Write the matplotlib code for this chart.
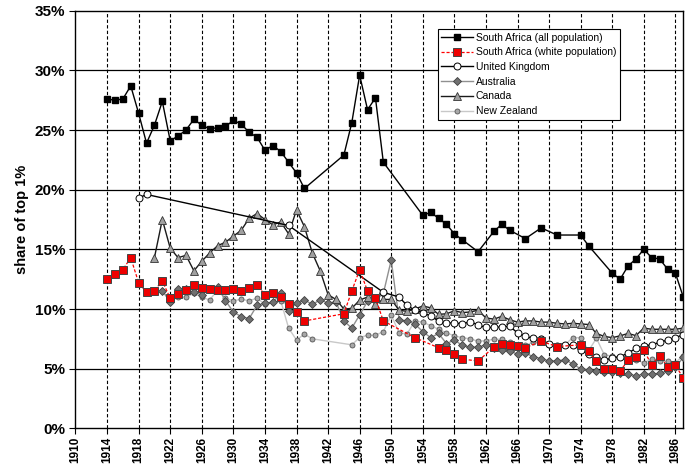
import matplotlib
matplotlib.use("Agg")
import matplotlib.pyplot as plt
from matplotlib.ticker import FuncFormatter

plt.rcParams['font.family'] = ['Liberation Sans', 'DejaVu Sans']

# ---------------- data ----------------
sa_all_years = [1914, 1915, 1916, 1917, 1918, 1919, 1920, 1921, 1922, 1923, 1924, 1925, 1926,
                1927, 1928, 1929, 1930, 1931, 1932, 1933, 1934, 1935, 1936, 1937, 1938, 1939,
                1944, 1945, 1946, 1947, 1948, 1949, 1954, 1955, 1956, 1957, 1958, 1959, 1961,
                1963, 1964, 1965, 1967, 1969, 1971, 1974, 1975, 1978, 1979, 1980, 1981, 1982,
                1983, 1984, 1985, 1986, 1987]
sa_all_vals = [27.6, 27.5, 27.6, 28.7, 26.4, 23.9, 25.4, 27.4, 24.1, 24.5, 25.0, 25.9, 25.4,
               25.1, 25.2, 25.3, 25.8, 25.5, 24.8, 24.4, 23.3, 23.7, 23.2, 22.3, 21.4, 20.1,
               22.9, 25.6, 29.6, 26.7, 27.7, 22.3, 17.85, 18.1, 17.6, 17.1, 16.3, 15.8, 14.8,
               16.5, 17.1, 16.6, 15.9, 16.8, 16.2, 16.2, 15.3, 13.0, 12.5, 13.6, 14.2, 15.0,
               14.3, 14.2, 13.35, 13.0, 11.0]

sa_white_years = [1914, 1915, 1916, 1917, 1918, 1919, 1920, 1921, 1922, 1923, 1924, 1925, 1926,
                  1927, 1928, 1929, 1930, 1931, 1932, 1933, 1934, 1935, 1936, 1937, 1938, 1939,
                  1944, 1945, 1946, 1947, 1948, 1949, 1953, 1956, 1957, 1958, 1959, 1961,
                  1963, 1964, 1965, 1966, 1967, 1969, 1971, 1974, 1975, 1976, 1977, 1978, 1979,
                  1980, 1981, 1982, 1983, 1984, 1985, 1986, 1987]
sa_white_vals = [12.5, 12.9, 13.3, 14.3, 12.2, 11.4, 11.55, 12.35, 10.9, 11.26, 11.6, 12.0, 11.8,
                 11.65, 11.6, 11.6, 11.65, 11.5, 11.75, 12.0, 11.2, 11.35, 11.0, 10.4, 9.75, 9.0,
                 9.6, 11.5, 13.3, 11.5, 10.9, 9.0, 7.6, 6.75, 6.55, 6.2, 5.8, 5.64,
                 6.8, 7.05, 7.02, 6.9, 6.76, 7.3, 6.85, 7.0, 6.45, 5.62, 4.96, 4.96, 4.8,
                 5.7, 5.97, 6.55, 5.3, 6.1, 5.18, 5.3, 4.2]

uk_years = [1918, 1919, 1937, 1949, 1951, 1952, 1953, 1954, 1955, 1956, 1957, 1958, 1959, 1960,
            1961, 1962, 1963, 1964, 1965, 1966, 1967, 1968, 1969, 1970, 1971, 1972, 1973, 1974,
            1975, 1976, 1977, 1978, 1979, 1980, 1981, 1982, 1983, 1984, 1985, 1986, 1987]
uk_vals = [19.3, 19.6, 17.0, 11.4, 11.0, 10.3, 9.9, 9.7, 9.4, 9.0, 8.8, 8.85, 8.74, 8.94,
           8.66, 8.45, 8.45, 8.5, 8.55, 8.0, 7.7, 7.55, 7.45, 7.06, 6.86, 6.98, 7.0, 6.56,
           6.2, 5.95, 5.7, 5.9, 6.0, 6.3, 6.7, 6.9, 7.0, 7.2, 7.4, 7.6, 7.85]

aus_years = list(range(1921, 1988))
aus_vals = [11.55, 10.6, 11.7, 11.65, 11.4, 11.2, 11.65, 11.85, 10.7, 9.75, 9.36, 9.2, 10.3,
            10.5, 10.55, 11.3, 9.86, 10.5, 10.75, 10.4, 10.75, 10.5, 10.6, 9.0, 8.4, 9.5,
            10.65, 10.75, 11.3, 14.1, 9.1, 9.0, 8.74, 8.1, 7.6, 7.95, 7.1, 7.4, 6.95, 6.8,
            6.8, 7.0, 6.76, 6.56, 6.45, 6.23, 6.3, 6.0, 5.85, 5.64, 5.65, 5.75, 5.4, 4.98,
            4.9, 4.83, 4.72, 4.7, 4.6, 4.56, 4.4, 4.55, 4.55, 4.6, 4.83, 5.1, 5.95]

can_years = list(range(1920, 1988))
can_vals = [14.3, 17.5, 15.1, 14.3, 14.5, 13.2, 14.0, 14.7, 15.3, 15.6, 16.1, 16.6, 17.6,
            18.0, 17.5, 17.05, 17.3, 16.3, 18.3, 16.9, 14.7, 13.2, 11.2, 10.8, 10.0, 10.05,
            10.75, 11.0, 10.4, 10.8, 10.8, 9.9, 9.8, 10.0, 10.25, 10.1, 9.55, 9.6, 9.85,
            9.7, 9.75, 9.9, 9.25, 9.15, 9.38, 9.1, 8.9, 9.0, 9.0, 8.9, 8.9, 8.8, 8.75,
            8.8, 8.75, 8.7, 7.95, 7.7, 7.6, 7.75, 7.95, 7.77, 8.4, 8.3, 8.3, 8.3, 8.3, 8.4]

nz_years = [1921, 1922, 1923, 1924, 1925, 1926, 1927, 1928, 1929, 1930, 1931, 1932, 1933, 1934,
            1935, 1936, 1937, 1938, 1939, 1940, 1945, 1946, 1947, 1948, 1949, 1950, 1951,
            1952, 1953, 1954, 1955, 1956, 1957, 1958, 1959, 1960, 1961, 1962, 1963, 1964,
            1965, 1966, 1967, 1968, 1969, 1970, 1971, 1972, 1973, 1974, 1975, 1976, 1977,
            1978, 1979, 1980, 1981, 1982, 1983, 1984, 1985, 1986, 1987]
nz_vals = [11.5, 10.6, 11.0, 11.0, 11.3, 11.0, 10.75, 11.6, 10.9, 10.7, 10.8, 10.7, 10.9, 10.4,
           10.6, 10.7, 8.4, 7.4, 7.9, 7.5, 7.0, 7.6, 7.8, 7.8, 8.1, 9.5, 8.0,
           7.9, 9.0, 8.9, 8.6, 8.3, 8.0, 7.75, 7.6, 7.5, 7.3, 7.35, 7.46, 7.46,
           7.2, 7.0, 7.0, 7.2, 7.6, 7.0, 6.9, 7.0, 7.6, 7.6, 6.5, 7.55, 6.15,
           6.06, 5.95, 5.78, 5.7, 5.5, 5.8, 5.6, 5.6, 5.5, 6.1]

x_ticks = list(range(1910, 1987, 4))
y_ticks = [0, 5, 10, 15, 20, 25, 30, 35]

# ---------------- figure ----------------
fig = plt.figure(figsize=(6.85, 4.68), dpi=100)
ax = fig.add_axes([0.1102, 0.0848, 0.8873, 0.8923])

ax.set_xlim(1910, 1987)
ax.set_ylim(0, 35)

for yv in y_ticks[1:-1]:
    ax.axhline(yv, color='black', lw=0.9, zorder=1)
for xv in x_ticks[1:]:
    ax.axvline(xv, color='black', lw=0.8, ls=(0, (3, 2)), zorder=1)

ax.plot(nz_years, nz_vals, color='#c8c8c8', lw=1.0, marker='o', ms=3.6,
        mfc='#a8a8a8', mec='#555555', mew=0.6, label='New Zealand', zorder=3)
ax.plot(aus_years, aus_vals, color='#909090', lw=1.0, marker='D', ms=4.2,
        mfc='#707070', mec='#404040', mew=0.6, label='Australia', zorder=4)
ax.plot(can_years, can_vals, color='#1a1a1a', lw=1.0, marker='^', ms=5.5,
        mfc='#a0a0a0', mec='#333333', mew=0.6, label='Canada', zorder=4)
ax.plot(uk_years, uk_vals, color='black', lw=1.0, marker='o', ms=5,
        mfc='white', mec='black', mew=0.7, label='United Kingdom', zorder=5)
ax.plot(sa_white_years, sa_white_vals, color='red', lw=0.9, ls=(0, (2.5, 1.5)),
        marker='s', ms=6, mfc='#ee0000', mec='#444444', mew=0.7,
        label='South Africa (white population)', zorder=6)
ax.plot(sa_all_years, sa_all_vals, color='black', lw=1.0, marker='s', ms=4,
        mfc='black', mec='black', label='South Africa (all population)', zorder=7)

ax.set_xticks(x_ticks)
ax.set_xticklabels([str(x) for x in x_ticks], rotation=90, fontsize=8.5, fontweight='bold')
ax.set_yticks(y_ticks)
ax.yaxis.set_major_formatter(FuncFormatter(lambda v, p: f"{int(v)}%"))
for lab in ax.get_yticklabels():
    lab.set_fontweight('bold')
    lab.set_fontsize(11)
ax.tick_params(axis='both', direction='out', length=4, width=0.8, color='black')
ax.tick_params(axis='x', pad=2)
ax.set_ylabel('share of top 1%', fontsize=10.5, fontweight='bold', labelpad=4)

for sp in ax.spines.values():
    sp.set_color('black')
    sp.set_linewidth(1.0)

handles, labels = ax.get_legend_handles_labels()
order = ['South Africa (all population)', 'South Africa (white population)',
         'United Kingdom', 'Australia', 'Canada', 'New Zealand']
hmap = dict(zip(labels, handles))
leg = ax.legend([hmap[o] for o in order], order, loc='upper left',
                bbox_to_anchor=(0.596, 0.956), fontsize=7.5, frameon=True,
                fancybox=False, edgecolor='black', framealpha=1, handlelength=3.0,
                borderpad=0.35, labelspacing=0.45, handletextpad=0.3, borderaxespad=0)
leg.get_frame().set_linewidth(0.8)

fig.savefig('out.png', dpi=100)
